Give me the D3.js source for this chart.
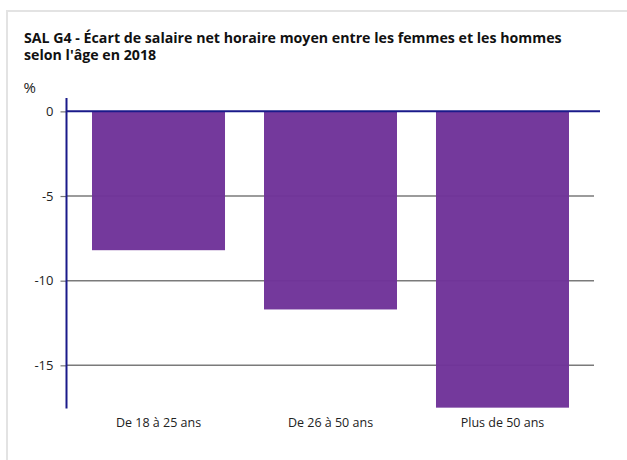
<!DOCTYPE html>
<html><head><meta charset="utf-8">
<script src="https://cdn.jsdelivr.net/npm/d3@7"></script>
<style>
html,body{margin:0;padding:0;background:#fff;}
svg{display:block;font-family:"Open Sans",sans-serif;}
</style></head>
<body><svg id="c" width="627" height="460"></svg>
<script>
const categories = ["De 18 à 25 ans", "De 26 à 50 ans", "Plus de 50 ans"];
const values = [-8.2, -11.7, -17.5];
const yTicks = [0, -5, -10, -15];
const titleLines = ["SAL G4 - Écart de salaire net horaire moyen entre les femmes et les hommes", "selon l'âge en 2018"];
const unitLabel = "%";

const svg = d3.select("#c");
// card border
svg.append("rect").attr("x", 7).attr("y", 11).attr("width", 640).attr("height", 470)
  .attr("fill", "#fff").attr("stroke", "#e3e3e3").attr("stroke-width", 2);

svg.append("text").attr("x", 24).attr("y", 43).attr("font-size", 14.2).attr("font-weight", 700)
  .attr("fill", "#111")
  .selectAll("tspan").data(titleLines).join("tspan")
  .attr("x", 24).attr("dy", (d, i) => i ? 17 : 0).text(d => d);

svg.append("text").attr("x", 23.5).attr("y", 93).attr("font-size", 15).attr("fill", "#222").text(unitLabel);

const x = d3.scaleBand().domain(categories).range([72.5, 588.5]).paddingInner(0.2267).paddingOuter(0.1134);
const y = d3.scaleLinear().domain([-17.55, 0.79]).range([408.5, 98]);

// gridlines
svg.append("g").selectAll("line").data(yTicks.filter(t => t !== 0)).join("line")
  .attr("x1", 66).attr("x2", 594).attr("y1", d => y(d)).attr("y2", d => y(d))
  .attr("stroke", "#7a7a7a").attr("stroke-width", 1.5);

// bars
svg.append("g").selectAll("rect").data(values).join("rect")
  .attr("x", (d, i) => x(categories[i])).attr("width", x.bandwidth())
  .attr("y", y(0)).attr("height", d => y(d) - y(0))
  .attr("fill", "#703399").attr("fill-opacity", 0.97);

// y axis
const yAxis = d3.axisLeft(y).tickValues(yTicks).tickSize(6).tickPadding(7).tickFormat(d => String(d));
const ga = svg.append("g").attr("transform", "translate(66.5,0)").call(yAxis);
ga.select(".domain").remove();
ga.selectAll(".tick line").attr("stroke", "#777").attr("stroke-width", 1.2);
ga.selectAll(".tick text").attr("font-size", 13).attr("fill", "#222").attr("font-family", "Open Sans");
svg.append("line").attr("x1", 66.5).attr("x2", 66.5).attr("y1", y.range()[1]).attr("y2", y.range()[0])
  .attr("stroke", "#1a1a8a").attr("stroke-width", 2);
// zero line
svg.append("line").attr("x1", 66).attr("x2", 600).attr("y1", y(0)).attr("y2", y(0))
  .attr("stroke", "#1a1a8a").attr("stroke-width", 2);

// x labels
const xAxis = d3.axisBottom(x).tickSize(0).tickPadding(10);
const gx = svg.append("g").attr("transform", "translate(0,408.5)").call(xAxis);
gx.select(".domain").remove();
gx.selectAll(".tick text").attr("font-size", 12.5).attr("fill", "#222").attr("font-family", "Open Sans");
</script></body></html>
